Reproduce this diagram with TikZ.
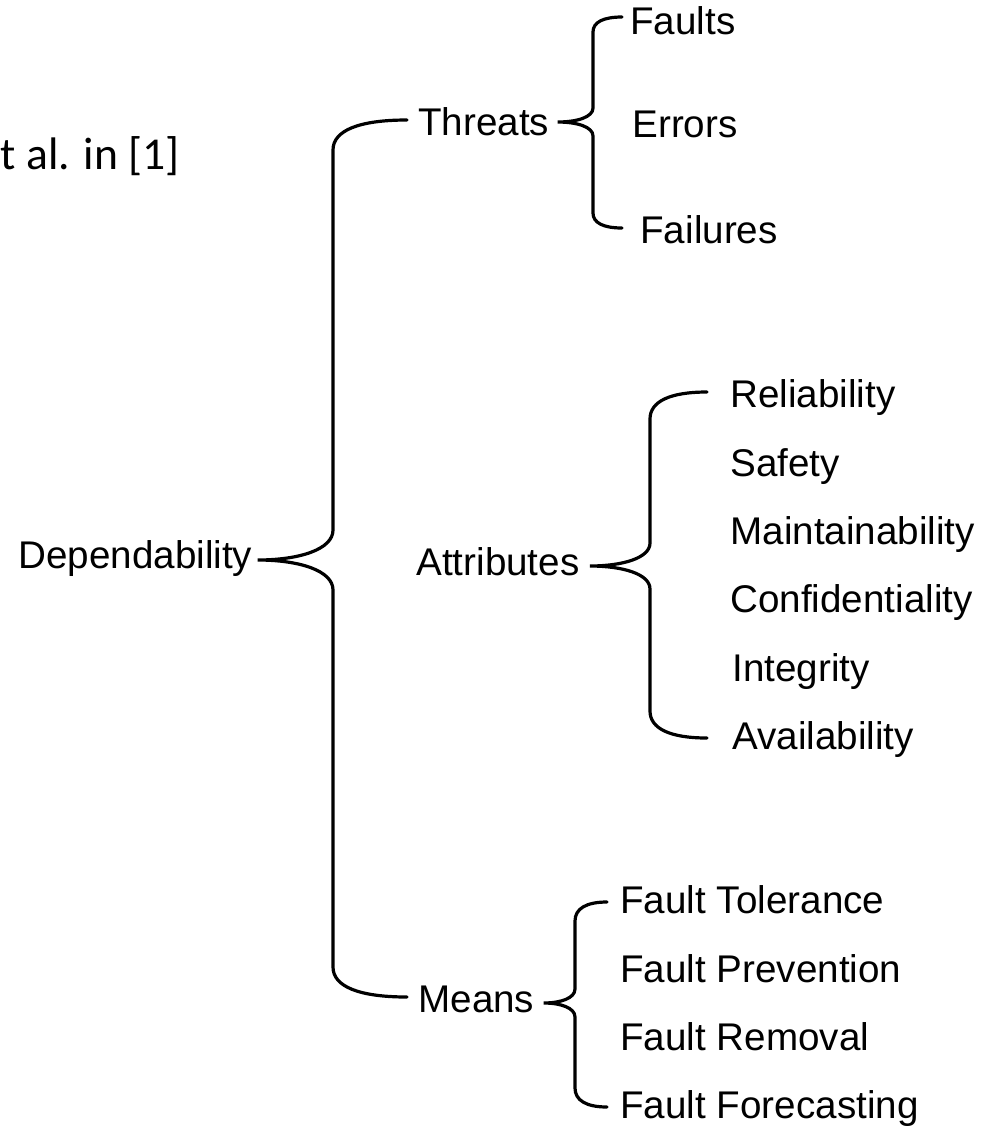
\documentclass[tikz,border=0pt]{standalone}
\usepackage{fontspec}
\setmainfont{Liberation Sans}
\newfontfamily\notefont{Carlito}
\usetikzlibrary{calc}

\tikzset{
  curly/.style={line width=1.6pt, line cap=round},
  term/.style={anchor=base west, inner sep=0pt, font=\fontsize{19.3pt}{23pt}\selectfont},
}

% curly bracket: #1 tip, #2 top end, #3 bottom end, #4 spine x, #5 arm bend, #6 tip bend
\newcommand{\bracepath}[6]{%
  \draw[curly] let \p1=(#1), \p2=(#2), \p3=(#3), \p4=(#4,0) in
    (\p2) .. controls ({\x4+0.35*(\x2-\x4)},\y2) and (\x4,{\y2-0.35*#5}) .. (\x4,{\y2-#5})
    -- (\x4,{\y1+#6}) .. controls (\x4,{\y1+0.35*#6}) and ({\x4+0.45*(\x1-\x4)},\y1) .. (\p1)
    .. controls ({\x4+0.45*(\x1-\x4)},\y1) and (\x4,{\y1-0.35*#6}) .. (\x4,{\y1-#6})
    -- (\x4,{\y3+#5}) .. controls (\x4,{\y3+0.35*#5}) and ({\x4+0.35*(\x3-\x4)},\y3) .. (\p3);%
}

\begin{document}
\begin{tikzpicture}[x=0.5pt,y=-0.5pt]
\useasboundingbox (0,0) rectangle (984,1126);

\node[anchor=base east, inner sep=0pt, font=\notefont\fontsize{22.8pt}{27pt}\selectfont] (note) at (180,169) {t al. in [1]};

% root
\node[term] (dep) at (18,568) {Dependability};

% second level
\node[term] (threats) at (418,135) {Threats};
\node[term] (attributes) at (416,575) {Attributes};
\node[term] (means) at (418,1012) {Means};

% threats
\node[term] (faults) at (630,34) {Faults};
\node[term] (errors) at (632,137) {Errors};
\node[term] (failures) at (640,243) {Failures};

% attributes
\node[term] (reliability) at (730,407) {Reliability};
\node[term] (safety) at (730,476) {Safety};
\node[term] (maintainability) at (730,544) {Maintainability};
\node[term] (confidentiality) at (730,612) {Confidentiality};
\node[term] (integrity) at (732,681) {Integrity};
\node[term] (availability) at (732,749) {Availability};

% means
\node[term] (tolerance) at (620,913) {Fault Tolerance};
\node[term] (prevention) at (620,982) {Fault Prevention};
\node[term] (removal) at (620,1050) {Fault Removal};
\node[term] (forecasting) at (620,1118) {Fault Forecasting};

% brackets
\bracepath{[xshift=2.5pt,yshift=4pt]dep.base east}{[xshift=-5.5pt,yshift=7.5pt]threats.base west}{[xshift=-5.5pt,yshift=7.5pt]means.base west}{333}{15pt}{15pt}
\bracepath{[xshift=4pt,yshift=6.5pt]threats.base east}{[xshift=-4pt,yshift=8.5pt]faults.base west}{[xshift=-9pt,yshift=7.5pt]failures.base west}{593}{7.5pt}{7pt}
\bracepath{[xshift=5pt,yshift=4.5pt]attributes.base east}{[xshift=-11.5pt,yshift=7.5pt]reliability.base west}{[xshift=-12.5pt,yshift=5.5pt]availability.base west}{650}{13.5pt}{11.5pt}
\bracepath{[xshift=4.5pt,yshift=4.5pt]means.base east}{[xshift=-6.5pt,yshift=5.5pt]tolerance.base west}{[xshift=-6.5pt,yshift=5.5pt]forecasting.base west}{575}{9.5pt}{7pt}
\end{tikzpicture}
\end{document}
